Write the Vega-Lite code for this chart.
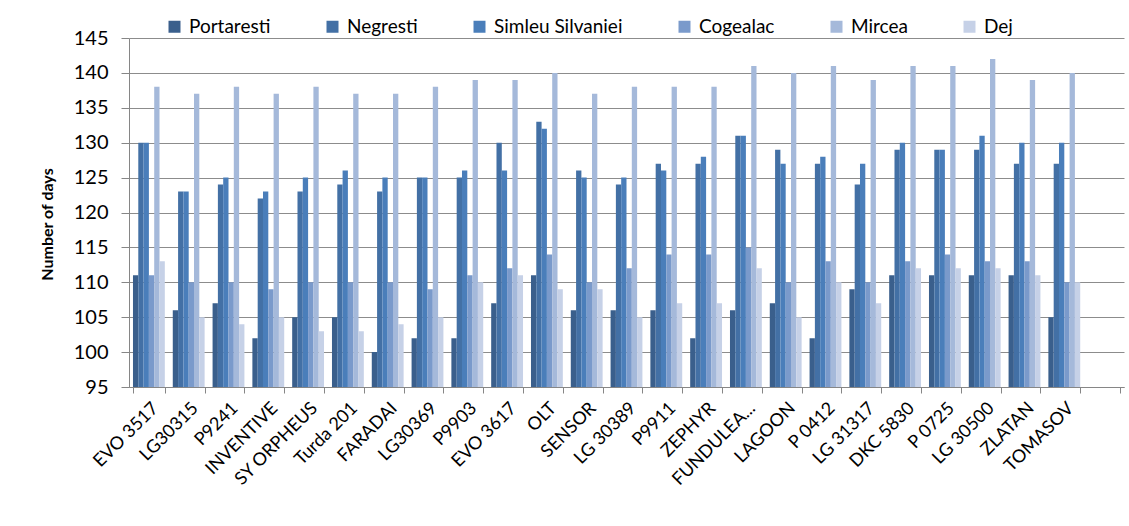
{
  "$schema": "https://vega.github.io/schema/vega-lite/v6.json",
  "autosize": "none",
  "width": 995,
  "height": 349,
  "padding": {"left": 129, "top": 38, "right": 5, "bottom": 139},
  "background": "white",
  "config": {
    "font": "Lato",
    "view": {"stroke": null},
    "axis": {"labelColor": "#000000", "titleColor": "#000000", "domainColor": "#868686", "tickColor": "#868686", "gridColor": "#8c8c8c"}
  },
  "data": {"values": [
    {"c":"EVO 3517","s":"Portaresti","v":111},{"c":"EVO 3517","s":"Negresti","v":130},{"c":"EVO 3517","s":"Simleu Silvaniei","v":130},{"c":"EVO 3517","s":"Cogealac","v":111},{"c":"EVO 3517","s":"Mircea","v":138},{"c":"EVO 3517","s":"Dej","v":113},
    {"c":"LG30315","s":"Portaresti","v":106},{"c":"LG30315","s":"Negresti","v":123},{"c":"LG30315","s":"Simleu Silvaniei","v":123},{"c":"LG30315","s":"Cogealac","v":110},{"c":"LG30315","s":"Mircea","v":137},{"c":"LG30315","s":"Dej","v":105},
    {"c":"P9241","s":"Portaresti","v":107},{"c":"P9241","s":"Negresti","v":124},{"c":"P9241","s":"Simleu Silvaniei","v":125},{"c":"P9241","s":"Cogealac","v":110},{"c":"P9241","s":"Mircea","v":138},{"c":"P9241","s":"Dej","v":104},
    {"c":"INVENTIVE","s":"Portaresti","v":102},{"c":"INVENTIVE","s":"Negresti","v":122},{"c":"INVENTIVE","s":"Simleu Silvaniei","v":123},{"c":"INVENTIVE","s":"Cogealac","v":109},{"c":"INVENTIVE","s":"Mircea","v":137},{"c":"INVENTIVE","s":"Dej","v":105},
    {"c":"SY ORPHEUS","s":"Portaresti","v":105},{"c":"SY ORPHEUS","s":"Negresti","v":123},{"c":"SY ORPHEUS","s":"Simleu Silvaniei","v":125},{"c":"SY ORPHEUS","s":"Cogealac","v":110},{"c":"SY ORPHEUS","s":"Mircea","v":138},{"c":"SY ORPHEUS","s":"Dej","v":103},
    {"c":"Turda 201","s":"Portaresti","v":105},{"c":"Turda 201","s":"Negresti","v":124},{"c":"Turda 201","s":"Simleu Silvaniei","v":126},{"c":"Turda 201","s":"Cogealac","v":110},{"c":"Turda 201","s":"Mircea","v":137},{"c":"Turda 201","s":"Dej","v":103},
    {"c":"FARADAI","s":"Portaresti","v":100},{"c":"FARADAI","s":"Negresti","v":123},{"c":"FARADAI","s":"Simleu Silvaniei","v":125},{"c":"FARADAI","s":"Cogealac","v":110},{"c":"FARADAI","s":"Mircea","v":137},{"c":"FARADAI","s":"Dej","v":104},
    {"c":"LG30369","s":"Portaresti","v":102},{"c":"LG30369","s":"Negresti","v":125},{"c":"LG30369","s":"Simleu Silvaniei","v":125},{"c":"LG30369","s":"Cogealac","v":109},{"c":"LG30369","s":"Mircea","v":138},{"c":"LG30369","s":"Dej","v":105},
    {"c":"P9903","s":"Portaresti","v":102},{"c":"P9903","s":"Negresti","v":125},{"c":"P9903","s":"Simleu Silvaniei","v":126},{"c":"P9903","s":"Cogealac","v":111},{"c":"P9903","s":"Mircea","v":139},{"c":"P9903","s":"Dej","v":110},
    {"c":"EVO 3617","s":"Portaresti","v":107},{"c":"EVO 3617","s":"Negresti","v":130},{"c":"EVO 3617","s":"Simleu Silvaniei","v":126},{"c":"EVO 3617","s":"Cogealac","v":112},{"c":"EVO 3617","s":"Mircea","v":139},{"c":"EVO 3617","s":"Dej","v":111},
    {"c":"OLT","s":"Portaresti","v":111},{"c":"OLT","s":"Negresti","v":133},{"c":"OLT","s":"Simleu Silvaniei","v":132},{"c":"OLT","s":"Cogealac","v":114},{"c":"OLT","s":"Mircea","v":140},{"c":"OLT","s":"Dej","v":109},
    {"c":"SENSOR","s":"Portaresti","v":106},{"c":"SENSOR","s":"Negresti","v":126},{"c":"SENSOR","s":"Simleu Silvaniei","v":125},{"c":"SENSOR","s":"Cogealac","v":110},{"c":"SENSOR","s":"Mircea","v":137},{"c":"SENSOR","s":"Dej","v":109},
    {"c":"LG 30389","s":"Portaresti","v":106},{"c":"LG 30389","s":"Negresti","v":124},{"c":"LG 30389","s":"Simleu Silvaniei","v":125},{"c":"LG 30389","s":"Cogealac","v":112},{"c":"LG 30389","s":"Mircea","v":138},{"c":"LG 30389","s":"Dej","v":105},
    {"c":"P9911","s":"Portaresti","v":106},{"c":"P9911","s":"Negresti","v":127},{"c":"P9911","s":"Simleu Silvaniei","v":126},{"c":"P9911","s":"Cogealac","v":114},{"c":"P9911","s":"Mircea","v":138},{"c":"P9911","s":"Dej","v":107},
    {"c":"ZEPHYR","s":"Portaresti","v":102},{"c":"ZEPHYR","s":"Negresti","v":127},{"c":"ZEPHYR","s":"Simleu Silvaniei","v":128},{"c":"ZEPHYR","s":"Cogealac","v":114},{"c":"ZEPHYR","s":"Mircea","v":138},{"c":"ZEPHYR","s":"Dej","v":107},
    {"c":"FUNDULEA...","s":"Portaresti","v":106},{"c":"FUNDULEA...","s":"Negresti","v":131},{"c":"FUNDULEA...","s":"Simleu Silvaniei","v":131},{"c":"FUNDULEA...","s":"Cogealac","v":115},{"c":"FUNDULEA...","s":"Mircea","v":141},{"c":"FUNDULEA...","s":"Dej","v":112},
    {"c":"LAGOON","s":"Portaresti","v":107},{"c":"LAGOON","s":"Negresti","v":129},{"c":"LAGOON","s":"Simleu Silvaniei","v":127},{"c":"LAGOON","s":"Cogealac","v":110},{"c":"LAGOON","s":"Mircea","v":140},{"c":"LAGOON","s":"Dej","v":105},
    {"c":"P 0412","s":"Portaresti","v":102},{"c":"P 0412","s":"Negresti","v":127},{"c":"P 0412","s":"Simleu Silvaniei","v":128},{"c":"P 0412","s":"Cogealac","v":113},{"c":"P 0412","s":"Mircea","v":141},{"c":"P 0412","s":"Dej","v":110},
    {"c":"LG 31317","s":"Portaresti","v":109},{"c":"LG 31317","s":"Negresti","v":124},{"c":"LG 31317","s":"Simleu Silvaniei","v":127},{"c":"LG 31317","s":"Cogealac","v":110},{"c":"LG 31317","s":"Mircea","v":139},{"c":"LG 31317","s":"Dej","v":107},
    {"c":"DKC 5830","s":"Portaresti","v":111},{"c":"DKC 5830","s":"Negresti","v":129},{"c":"DKC 5830","s":"Simleu Silvaniei","v":130},{"c":"DKC 5830","s":"Cogealac","v":113},{"c":"DKC 5830","s":"Mircea","v":141},{"c":"DKC 5830","s":"Dej","v":112},
    {"c":"P 0725","s":"Portaresti","v":111},{"c":"P 0725","s":"Negresti","v":129},{"c":"P 0725","s":"Simleu Silvaniei","v":129},{"c":"P 0725","s":"Cogealac","v":114},{"c":"P 0725","s":"Mircea","v":141},{"c":"P 0725","s":"Dej","v":112},
    {"c":"LG 30500","s":"Portaresti","v":111},{"c":"LG 30500","s":"Negresti","v":129},{"c":"LG 30500","s":"Simleu Silvaniei","v":131},{"c":"LG 30500","s":"Cogealac","v":113},{"c":"LG 30500","s":"Mircea","v":142},{"c":"LG 30500","s":"Dej","v":112},
    {"c":"ZLATAN","s":"Portaresti","v":111},{"c":"ZLATAN","s":"Negresti","v":127},{"c":"ZLATAN","s":"Simleu Silvaniei","v":130},{"c":"ZLATAN","s":"Cogealac","v":113},{"c":"ZLATAN","s":"Mircea","v":139},{"c":"ZLATAN","s":"Dej","v":111},
    {"c":"TOMASOV","s":"Portaresti","v":105},{"c":"TOMASOV","s":"Negresti","v":127},{"c":"TOMASOV","s":"Simleu Silvaniei","v":130},{"c":"TOMASOV","s":"Cogealac","v":110},{"c":"TOMASOV","s":"Mircea","v":140},{"c":"TOMASOV","s":"Dej","v":110}
  ]},
  "mark": {"type": "bar", "clip": true},
  "encoding": {
    "x": {
      "field": "c", "type": "nominal",
      "scale": {
        "domain": ["EVO 3517","LG30315","P9241","INVENTIVE","SY ORPHEUS","Turda 201","FARADAI","LG30369","P9903","EVO 3617","OLT","SENSOR","LG 30389","P9911","ZEPHYR","FUNDULEA...","LAGOON","P 0412","LG 31317","DKC 5830","P 0725","LG 30500","ZLATAN","TOMASOV"," "],
        "paddingInner": 0.2, "paddingOuter": 0.1
      },
      "axis": {
        "title": null, "labelAngle": -45, "labelFontSize": 18, "labelPadding": 6,
        "tickBand": "extent", "tickSize": 6, "domainColor": "#868686", "labelAlign": "right", "labelBaseline": "top"
      }
    },
    "xOffset": {"field": "s", "type": "nominal", "sort": ["Portaresti","Negresti","Simleu Silvaniei","Cogealac","Mircea","Dej"], "scale": {"paddingInner": 0, "paddingOuter": 0}},
    "y": {
      "field": "v", "type": "quantitative",
      "scale": {"domain": [95, 145], "zero": false, "nice": false},
      "axis": {
        "title": "Number of days", "titleFontSize": 16, "titleFontWeight": "bold", "titlePadding": 18, "titleY": 186,
        "values": [95,100,105,110,115,120,125,130,135,140,145],
        "labelFontSize": 20, "labelPadding": 13, "tickSize": 8, "grid": true, "gridColor": "#8c8c8c"
      }
    },
    "color": {
      "field": "s", "type": "nominal",
      "scale": {
        "domain": ["Portaresti","Negresti","Simleu Silvaniei","Cogealac","Mircea","Dej"],
        "range": ["#3a5f8c","#4370a5","#4a7eba","#7a9acb","#a5b9da","#c6d1e7"]
      },
      "legend": {
        "title": null, "orient": "none", "direction": "horizontal", "legendX": 36, "legendY": -21,
        "symbolType": "square", "symbolSize": 144, "symbolStrokeWidth": 0, "labelFontSize": 19, "labelColor": "#000000",
        "columnPadding": 52, "labelOffset": 5
      }
    }
  }
}
